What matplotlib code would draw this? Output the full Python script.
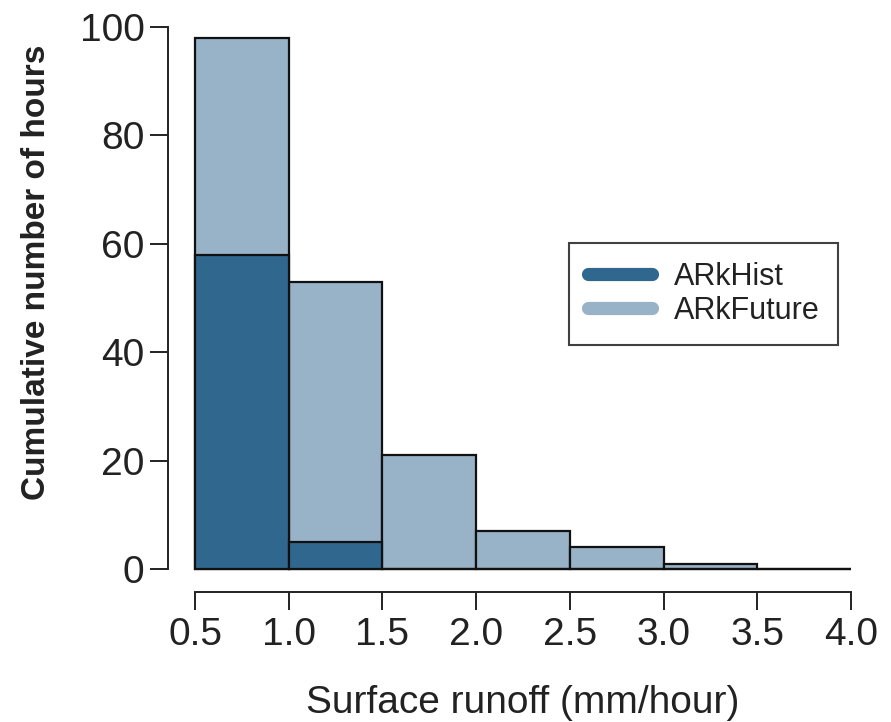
import matplotlib
matplotlib.use("Agg")
import matplotlib.pyplot as plt
from matplotlib.lines import Line2D

plt.rcParams['font.family'] = ['Liberation Sans', 'DejaVu Sans']

bin_edges = [0.5, 1.0, 1.5, 2.0, 2.5, 3.0, 3.5, 4.0]
future_counts = [98, 53, 21, 7, 4, 1, 0]
hist_counts = [58, 5, 0, 0, 0, 0, 0]
series_names = ["ARkHist", "ARkFuture"]
x_ticks = [0.5, 1.0, 1.5, 2.0, 2.5, 3.0, 3.5, 4.0]
y_ticks = [0, 20, 40, 60, 80, 100]

dark = "#30678f"
light = "#98b2c7"

W, H = 891, 722
fig = plt.figure(figsize=(W / 100, H / 100), dpi=100)
ax = fig.add_axes([195 / W, (H - 569) / H, 656 / W, 542 / H])

lefts = bin_edges[:-1]
widths = [b - a for a, b in zip(bin_edges[:-1], bin_edges[1:])]
ax.bar(lefts, future_counts, width=widths, align='edge', color=light,
       edgecolor='#111111', linewidth=1.6, clip_on=False, zorder=2)
ax.bar(lefts, hist_counts, width=widths, align='edge', color=dark,
       edgecolor='#111111', linewidth=1.6, clip_on=False, zorder=3)

ax.set_xlim(0.5, 4.0)
ax.set_ylim(0, 100)
for s in ['top', 'right']:
    ax.spines[s].set_visible(False)
ax.spines['left'].set_position(('outward', 27 * 0.72))
ax.spines['bottom'].set_position(('outward', 23 * 0.72))
ax.spines['left'].set_bounds(0, 100)
ax.spines['bottom'].set_bounds(0.5, 4.0)
for s in ['left', 'bottom']:
    ax.spines[s].set_linewidth(1.4)
    ax.spines[s].set_color('#222222')

ax.set_xticks(x_ticks)
ax.set_xticklabels([f"{v:.1f}" for v in x_ticks])
ax.set_yticks(y_ticks)
ax.tick_params(axis='both', direction='out', length=13, width=1.4,
               color='#222222', labelsize=28, labelcolor='#222222')
ax.tick_params(axis='x', pad=5)
ax.tick_params(axis='y', pad=4)

ax.set_xlabel("Surface runoff (mm/hour)", fontsize=28, color='#222222', labelpad=23)
ax.set_ylabel("Cumulative number of hours", fontsize=24, fontweight='bold',
              color='#222222')
ax.yaxis.set_label_coords((52 - 195) / 656, (569 - 272) / 542)

handles = [Line2D([0], [0], color=dark, lw=9.5, solid_capstyle='round'),
           Line2D([0], [0], color=light, lw=9.5, solid_capstyle='round')]
leg = fig.legend(handles, series_names, loc='upper left',
                 bbox_to_anchor=(569 / W, 1 - 243 / H), fontsize=22,
                 frameon=True, fancybox=False, handlelength=2.1,
                 handletextpad=0.7, borderpad=0.62, labelspacing=0.12,
                 borderaxespad=0)
leg.get_frame().set_edgecolor('#111111')
leg.get_frame().set_linewidth(1.5)
for t in leg.get_texts():
    t.set_color('#222222')

fig.savefig("out.png", dpi=100)
